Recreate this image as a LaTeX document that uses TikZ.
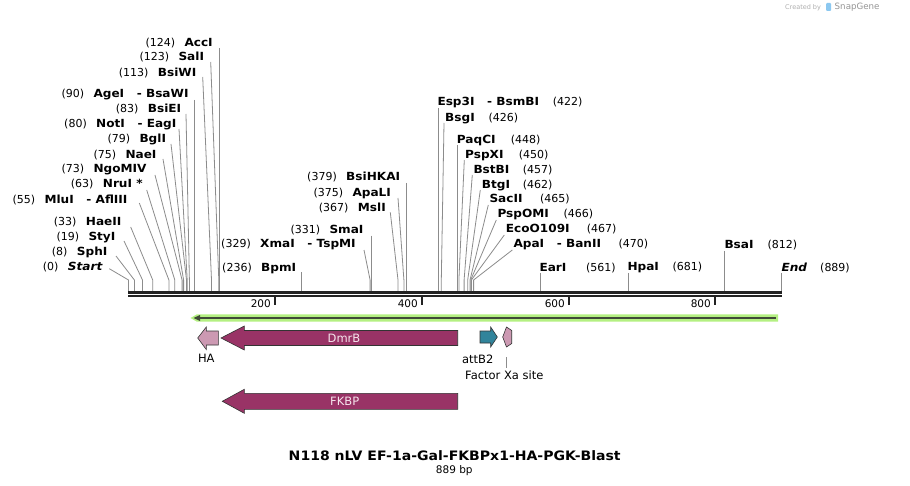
\documentclass[tikz,border=0pt]{standalone}
\usepackage{fontspec}
\setmainfont{DejaVu Sans}
\newfontfamily\bfnm{DejaVu Sans}[FakeStretch=1.08]
\definecolor{cutgray}{RGB}{140,140,140}
\definecolor{rulerc}{RGB}{34,34,34}
\definecolor{dmr}{RGB}{153,51,102}
\definecolor{hapink}{RGB}{204,153,178}
\definecolor{attcol}{RGB}{49,132,155}
\definecolor{lgreen}{RGB}{180,240,130}
\definecolor{dgreen}{RGB}{64,74,56}
\definecolor{ftextc}{RGB}{245,228,236}
\definecolor{featline}{RGB}{51,51,51}
\definecolor{wmgray}{RGB}{175,175,175}
\definecolor{wmgray2}{RGB}{150,150,150}
\definecolor{wmblue}{RGB}{140,200,240}
% left-type label: number before name
\newcommand\cutL[8]{%
  \node[nm] (l-#1) at (#2,#3) {#5};
  \node[num] (n-#1) at (#2-9,#3) {#4};
  \coordinate (s-#1) at (#6,#7);
  \coordinate (b-#1) at (#8,280);
  \coordinate (r-#1) at (#8,291);
  \draw[cut] (s-#1) -- (b-#1) -- (r-#1);
}
% right-type label: name before number
\newcommand\cutR[9]{%
  \node[nm] (l-#1) at (#2,#3) {#4};
  \node[numr] (n-#1) at (#5,#3) {#6};
  \coordinate (s-#1) at (#7,#8);
  \coordinate (b-#1) at (#9,280);
  \coordinate (r-#1) at (#9,291);
  \draw[cut] (s-#1) -- (b-#1) -- (r-#1);
}
\begin{document}
\begin{tikzpicture}[x=1pt,y=-1pt,
  num/.style={anchor=base east, inner sep=0pt, font=\fontsize{11}{13}\selectfont},
  numr/.style={anchor=base west, inner sep=0pt, font=\fontsize{11}{13}\selectfont},
  nm/.style={anchor=base west, inner sep=0pt, font=\bfnm\bfseries\fontsize{11.2}{13}\selectfont},
  cut/.style={draw=cutgray, line width=0.8pt},
  feat/.style={draw=featline, line width=0.6pt},
  flabel/.style={inner sep=0pt, font=\fontsize{11.5}{13}\selectfont},
  ftext/.style={inner sep=0pt, font=\fontsize{11.5}{13}\selectfont, text=ftextc},
  tickmark/.style={line width=2pt, draw=rulerc},
  ticklab/.style={anchor=base east, inner sep=0pt, font=\fontsize{10.5}{12}\selectfont},
]
\fill[white] (0,0) rectangle (910,486);
\useasboundingbox (0,0) rectangle (910,486);

% watermark
\node[anchor=west, inner sep=0pt, font=\fontsize{6.5}{8}\selectfont, text=wmgray] (wm1) at (785,7.5) {Created by};
\fill[wmblue, rounded corners=1pt] (826,3) rectangle (831,11);
\node[anchor=west, inner sep=0pt, font=\fontsize{8.7}{10}\selectfont, text=wmgray2] (wm2) at (834.5,7.2) {SnapGene};

% left group
\cutL{accI}{184.3}{46.7}{(124)}{AccI}{219.5}{48}{219.5}
\cutL{salI}{178.3}{60.7}{(123)}{SalI}{210.7}{62}{218.8}
\cutL{bsiwI}{157.7}{76.3}{(113)}{BsiWI}{202.7}{77}{211.5}
\cutL{ageI}{93.3}{97.3}{(90)}{AgeI~~~- BsaWI}{194.6}{100}{194.6}
\cutL{bsieI}{147.7}{113}{(83)}{BsiEI}{186}{114}{189.4}
\cutL{notI}{96}{128}{(80)}{NotI~~~- EagI}{179}{129}{187.2}
\cutL{bglI}{139.3}{143}{(79)}{BglI}{171}{144}{186.5}
\cutL{naeI}{125.3}{158.3}{(75)}{NaeI}{163}{159}{183.6}
\cutL{ngoI}{93.3}{173}{(73)}{NgoMIV}{155}{175}{182.1}
\cutL{nruI}{102.7}{187.3}{(63)}{NruI *}{146.7}{190}{174.8}
\cutL{mluI}{44.3}{203.3}{(55)}{MluI~~~- AflIII}{139.3}{203}{168.9}
\cutL{haeII}{85.7}{225.7}{(33)}{HaeII}{130.7}{227}{152.7}
\cutL{styI}{88.3}{240.7}{(19)}{StyI}{124}{241}{142.5}
\cutL{sphI}{76.7}{255.3}{(8)}{SphI}{116}{256}{134.4}
\cutL{start}{67.7}{270.7}{(0)}{\itshape Start}{109.3}{268.7}{128.5}

% middle group
\cutL{bsiHKAI}{346}{180.7}{(379)}{BsiHKAI}{406.8}{183}{406.8}
\cutL{apaLI}{352.3}{196.3}{(375)}{ApaLI}{398}{198}{403.9}
\cutL{mslI}{357.7}{211.3}{(367)}{MslI}{390.3}{212.3}{398}
\cutL{smaI}{329.3}{233.3}{(331)}{SmaI}{371.6}{235.7}{371.6}
\cutL{xmaI}{260}{248}{(329)}{XmaI~~~- TspMI}{364}{250}{370.1}
\cutL{bpmI}{261}{271.3}{(236)}{BpmI}{301.8}{272.3}{301.8}

% right group
\cutR{esp3I}{437.3}{105.7}{Esp3I~~~- BsmBI}{552.7}{(422)}{438.4}{108}{438.4}
\cutR{bsgI}{445}{121.3}{BsgI}{488.3}{(426)}{444}{123}{441.3}
\cutR{paqCI}{456.7}{143.3}{PaqCI}{510.7}{(448)}{457.5}{145}{457.5}
\cutR{pspXI}{465}{158.3}{PspXI}{518.7}{(450)}{464.3}{160}{458.9}
\cutR{bstBI}{473.3}{173.3}{BstBI}{522.7}{(457)}{472.3}{175}{464.1}
\cutR{btgI}{481.7}{188.3}{BtgI}{522.7}{(462)}{480.3}{190}{467.7}
\cutR{sacII}{489.3}{203}{SacII}{540}{(465)}{488.3}{205}{470}
\cutR{pspOMI}{497.3}{218}{PspOMI}{563.3}{(466)}{496.3}{220}{470.7}
\cutR{ecoO}{505.7}{233}{EcoO109I}{586.7}{(467)}{504.3}{235}{471.4}
\cutR{apaI}{513.3}{248}{ApaI~~~- BanII}{618.3}{(470)}{512.3}{250}{473.6}
\cutR{earI}{539.3}{271.3}{EarI}{586}{(561)}{540.4}{273}{540.4}
\cutR{hpaI}{627.3}{271}{HpaI}{672.3}{(681)}{628.6}{273}{628.6}
\cutR{bsaI}{724.3}{248.3}{BsaI}{767.3}{(812)}{724.8}{251}{724.8}
\cutR{end}{781.3}{271.3}{\itshape End}{820}{(889)}{781.3}{273}{781.3}

% ruler
\coordinate (rulA) at (128,292.4);
\coordinate (rulB) at (782,292.4);
\coordinate (rulC) at (128,296.3);
\coordinate (rulD) at (782,296.3);
\draw[line width=2.8pt, rulerc] (rulA) -- (rulB);
\draw[line width=2.2pt, rulerc] (rulC) -- (rulD);
\foreach \tx/\tl in {274.5/200, 421.5/400, 568.5/600, 714.5/800}{
  \draw[tickmark] (\tx,297) -- (\tx,305);
  \node[ticklab] (t\tl) at (\tx-3.5,307.8) {\tl};
}

% green full-length feature
\fill[lgreen] (190.5,318) -- (197,314.3) -- (778,314.3) -- (778,321.7) -- (197,321.7) -- cycle;
\draw[dgreen, line width=2pt] (198,318) -- (775.7,318);
\fill[dgreen] (193.5,318) -- (200,315) -- (200,321) -- cycle;

% HA
\draw[feat, fill=hapink] (197.7,338) -- (206.3,327) -- (206.3,331) -- (218.3,331) -- (218.3,345) -- (206.3,345) -- (206.3,349.5) -- cycle;
\node[flabel] (haL) at (206.3,358.7) {HA};

% DmrB
\draw[feat, fill=dmr] (221,338) -- (244.3,326) -- (244.3,330.5) -- (457.7,330.5) -- (457.7,345.5) -- (244.3,345.5) -- (244.3,350) -- cycle;
\node[ftext] (dmrL) at (344,338) {DmrB};

% attB2
\draw[feat, fill=attcol] (480,331) -- (490.7,331) -- (490.7,327) -- (497.3,337) -- (490.7,347) -- (490.7,343) -- (480,343) -- cycle;
\node[flabel] (attL) at (477.7,359.7) {attB2};

% Factor Xa site
\draw[feat, fill=hapink] (502.7,337) -- (506.5,327) -- (511.7,330.5) -- (511.7,343.5) -- (506.5,347) -- cycle;
\coordinate (fxTop) at (506.7,357);
\coordinate (fxBot) at (506.7,368);
\draw[cut] (fxTop) -- (fxBot);
\node[flabel] (fxL) at (504.3,375) {Factor Xa site};

% FKBP
\draw[feat, fill=dmr] (222.3,401.3) -- (244.3,389.3) -- (244.3,393.3) -- (457.7,393.3) -- (457.7,409.3) -- (244.3,409.3) -- (244.3,413.3) -- cycle;
\node[ftext] (fkbpL) at (344.7,401.3) {FKBP};

% title
\node[anchor=base, inner sep=0pt, font=\bfnm\bfseries\fontsize{13}{15}\selectfont] (title) at (454.7,460.5) {N118 nLV EF-1a-Gal-FKBPx1-HA-PGK-Blast};
\node[anchor=base, inner sep=0pt, font=\fontsize{10.5}{12}\selectfont] (bp) at (454.3,473.8) {889 bp};
\end{tikzpicture}
\end{document}
